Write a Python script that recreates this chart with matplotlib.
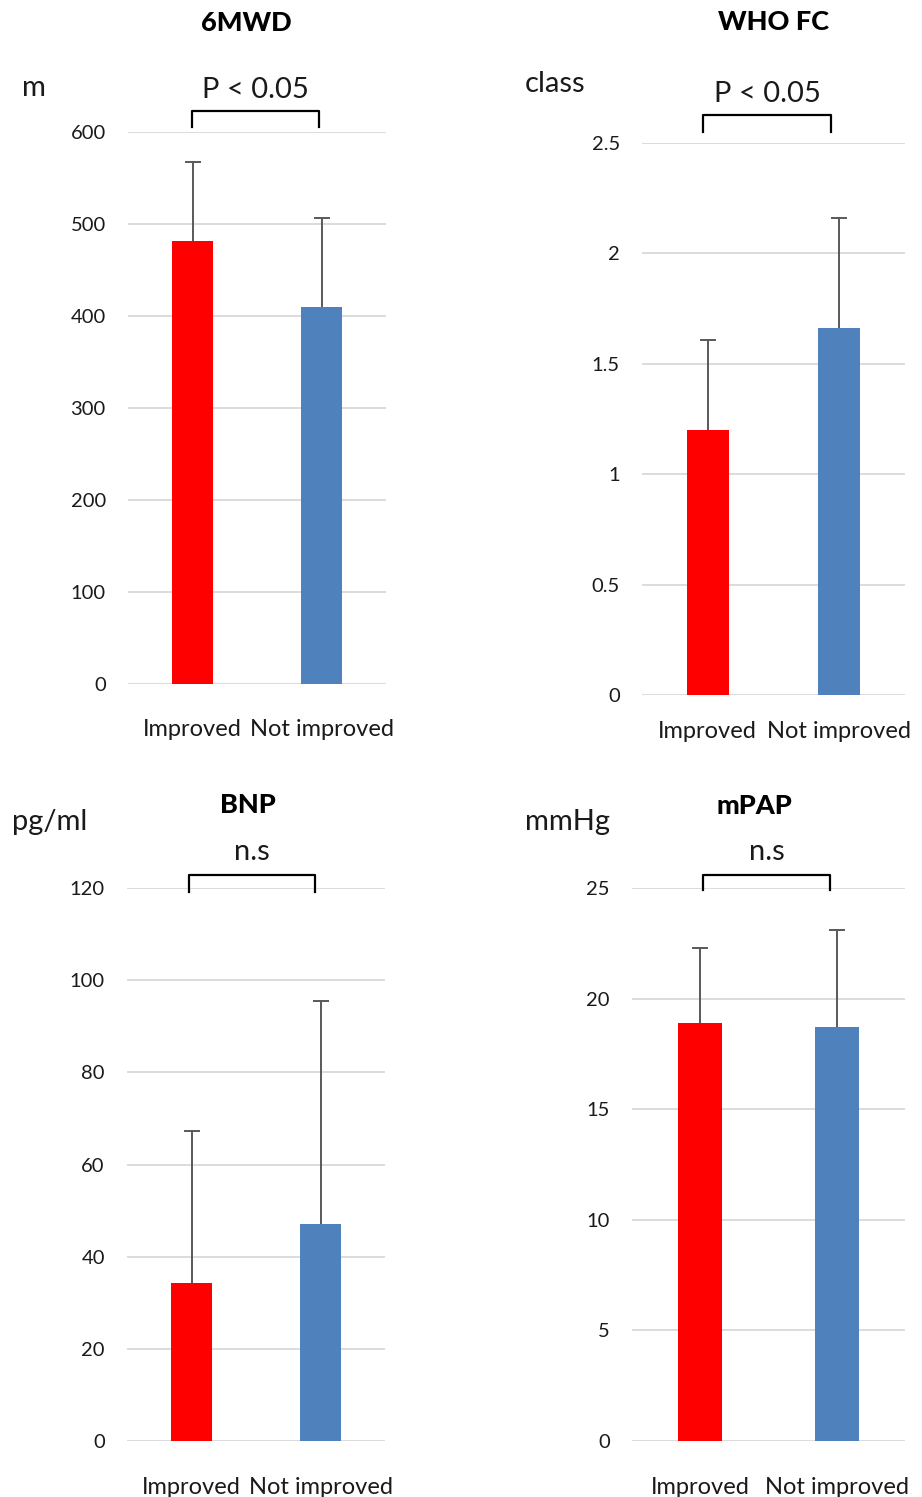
import numpy as np
import matplotlib
matplotlib.use("Agg")
import matplotlib.pyplot as plt

plt.rcParams['font.family'] = ['Lato', 'DejaVu Sans']

groups = ["Improved", "Not improved"]

titles = ["6MWD", "WHO FC", "BNP", "mPAP"]
units = ["m", "class", "pg/ml", "mmHg"]
pvals = ["P < 0.05", "P < 0.05", "n.s", "n.s"]

mwd_mean = [481, 410]
mwd_sd = [86, 97]
who_mean = [1.20, 1.66]
who_sd = [0.41, 0.50]
bnp_mean = [34.2, 47.0]
bnp_sd = [33.0, 48.5]
mpap_mean = [18.9, 18.7]
mpap_sd = [3.4, 4.4]

yticks_mwd = [0, 100, 200, 300, 400, 500, 600]
yticks_who = [0, 0.5, 1, 1.5, 2, 2.5]
yticks_bnp = [0, 20, 40, 60, 80, 100, 120]
yticks_mpap = [0, 5, 10, 15, 20, 25]

W, H = 922, 1497
fig = plt.figure(figsize=(W / 100, H / 100), dpi=100)

# axes boxes in pixels: left, right, top(ylim max), bottom(0 line)
boxes = [(128, 386, 132, 684), (642, 905, 143, 695),
         (127, 385, 888, 1441), (632, 905, 888, 1441)]
means = [mwd_mean, who_mean, bnp_mean, mpap_mean]
sds = [mwd_sd, who_sd, bnp_sd, mpap_sd]
ticks = [yticks_mwd, yticks_who, yticks_bnp, yticks_mpap]
# bracket top / leg bottom in axes fraction, bracket ends in x data units
brackets = [(1.038, 1.009), (1.051, 1.020), (1.0235, 0.993), (1.0235, 0.996)]
bracket_x = [(-0.004, 0.98), (-0.036, 0.937), (-0.02, 0.96), (0.02, 0.95)]
ptext_y = [1.076, 1.089, 1.066, 1.066]
xlab_pad = [25, 19, 26, 26]
title_pos = [(246, 23), (773, 22), (248, 805), (754, 806)]
unit_pos = [(22, 88), (525, 84), (12, 822), (525, 822)]

for i in range(4):
    l, r, t, b = boxes[i]
    ax = fig.add_axes([l / W, 1 - b / H, (r - l) / W, (b - t) / H])
    x = np.arange(2)
    ax.bar(x, means[i], width=0.32, color=["#FF0000", "#4F81BD"], zorder=3)
    eb = ax.errorbar(x, means[i], yerr=[[0, 0], sds[i]], fmt="none",
                     ecolor="#595959", elinewidth=1.4, capsize=6, capthick=1.4, zorder=4)
    # only the upper cap
    eb[1][0].set_visible(False)
    ax.set_xlim(-0.5, 1.5)
    ax.set_ylim(0, ticks[i][-1])
    ax.set_yticks(ticks[i])
    ax.set_yticklabels([("%g" % v) for v in ticks[i]])
    ax.set_xticks(x)
    ax.set_xticklabels(groups)
    ax.yaxis.grid(True, color="#D9D9D9", linewidth=1.3, zorder=0)
    for s in ax.spines.values():
        s.set_visible(False)
    ax.tick_params(axis="y", length=0, pad=16, labelsize=14.5, labelcolor="#1a1a1a")
    ax.tick_params(axis="x", length=0, pad=xlab_pad[i], labelsize=17, labelcolor="#1a1a1a")

    trans = ax.get_xaxis_transform()
    top, leg = brackets[i]
    x0, x1 = bracket_x[i]
    ax.plot([x0, x0, x1, x1], [leg, top, top, leg], color="black", lw=1.6,
            transform=trans, clip_on=False)
    ax.text((x0 + x1) / 2, ptext_y[i], pvals[i], transform=trans, ha="center",
            va="center", fontsize=21, color="#1a1a1a")

    tx, ty = title_pos[i]
    fig.text(tx / W, 1 - ty / H, titles[i], ha="center", va="center",
             fontsize=19.5, fontweight="black", color="black")
    ux, uy = unit_pos[i]
    fig.text(ux / W, 1 - uy / H, units[i], ha="left", va="center",
             fontsize=21, color="#1a1a1a")

fig.savefig("out.png", dpi=100, facecolor="white")
